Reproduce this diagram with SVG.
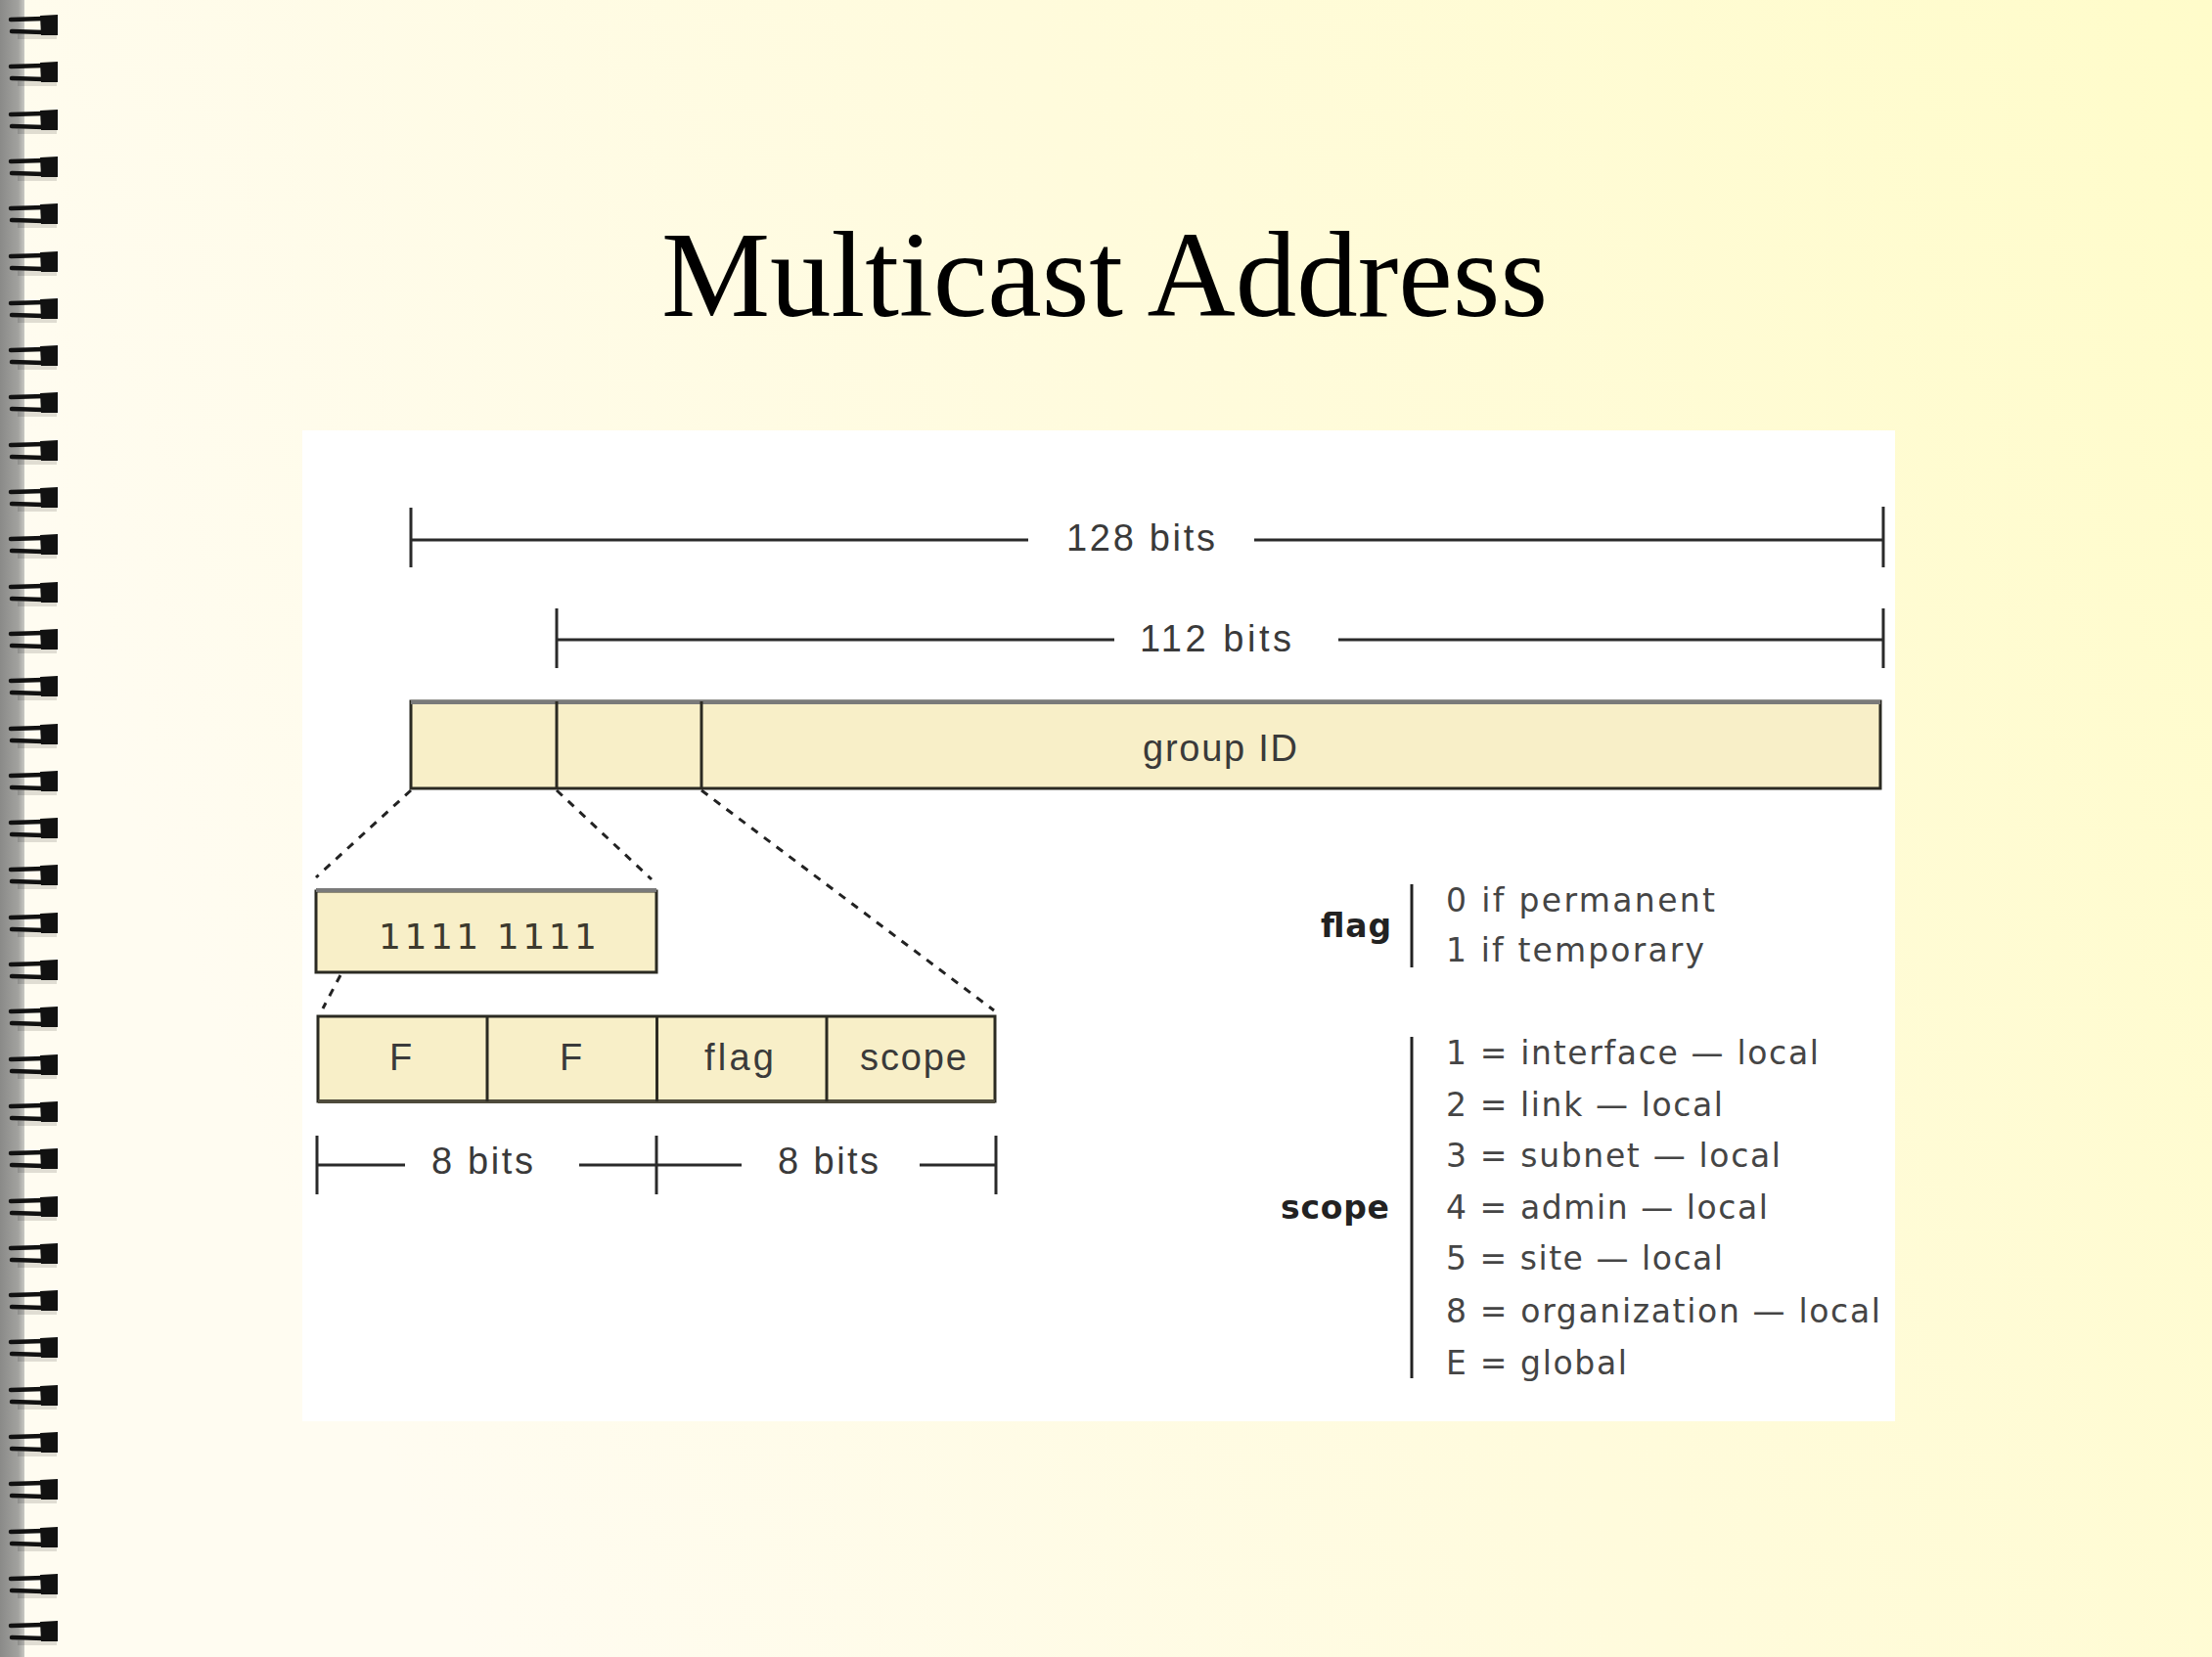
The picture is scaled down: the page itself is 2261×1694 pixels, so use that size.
<svg xmlns="http://www.w3.org/2000/svg" xmlns:xlink="http://www.w3.org/1999/xlink" width="2261" height="1694" viewBox="0 0 2261 1694">
<defs>
<linearGradient id="bg" x1="0" y1="0.3" x2="1" y2="0">
<stop offset="0" stop-color="#fffcf1"/>
<stop offset="0.5" stop-color="#fffbdc"/>
<stop offset="1" stop-color="#fffcca"/>
</linearGradient>
<linearGradient id="strip" x1="0" y1="0" x2="1" y2="0">
<stop offset="0" stop-color="#8a8a88"/>
<stop offset="0.75" stop-color="#a2a29f"/>
<stop offset="1" stop-color="#c9c9c4"/>
</linearGradient>
<g id="ring">
<rect x="18" y="20" width="40" height="5" fill="#000" opacity="0.12"/>
<path d="M11,5 L45,4" stroke="#111" stroke-width="4.5" stroke-linecap="round" fill="none"/>
<path d="M12,17 L45,18" stroke="#111" stroke-width="4.5" stroke-linecap="round" fill="none"/>
<path d="M41,1 L59,0 L59,21 L42,21 Z" fill="#111"/>
</g>
<style>
.box{fill:#f8efc8;stroke:#2b2a22;stroke-width:3}
.topedge{stroke:#7a7a7a;stroke-width:4;fill:none}
.botedge{stroke:#4f4b3c;stroke-width:4;fill:none}
.div{stroke:#2b2a22;stroke-width:3}
.dim{stroke:#2a2a2a;stroke-width:3;fill:none}
.dash{stroke:#222;stroke-width:3;stroke-dasharray:8 8;fill:none}
.bar{stroke:#222;stroke-width:3}
.lbl{font-family:"Liberation Sans",Arial,sans-serif;font-size:38px;fill:#3a3a3a}
.mono{font-family:"DejaVu Sans",Verdana,sans-serif;font-size:36px;fill:#3d3a2e}
.list{font-family:"DejaVu Sans",Verdana,sans-serif;font-size:33px;fill:#454545}
.key{font-family:"DejaVu Sans",Verdana,sans-serif;font-size:33px;font-weight:bold;fill:#222}
.title{font-family:"Liberation Serif","Times New Roman",serif;font-size:125px;fill:#000}
</style>
</defs>
<rect x="0" y="0" width="2261" height="1694" fill="url(#bg)"/>
<g id="binding">
<rect x="0" y="0" width="25" height="1694" fill="url(#strip)"/>
<use xlink:href="#ring" y="15"/><use xlink:href="#ring" y="63"/><use xlink:href="#ring" y="112"/><use xlink:href="#ring" y="160"/><use xlink:href="#ring" y="208"/>
<use xlink:href="#ring" y="257"/><use xlink:href="#ring" y="305"/><use xlink:href="#ring" y="353"/><use xlink:href="#ring" y="401"/><use xlink:href="#ring" y="450"/>
<use xlink:href="#ring" y="498"/><use xlink:href="#ring" y="546"/><use xlink:href="#ring" y="595"/><use xlink:href="#ring" y="643"/><use xlink:href="#ring" y="691"/>
<use xlink:href="#ring" y="740"/><use xlink:href="#ring" y="788"/><use xlink:href="#ring" y="836"/><use xlink:href="#ring" y="884"/><use xlink:href="#ring" y="933"/>
<use xlink:href="#ring" y="981"/><use xlink:href="#ring" y="1029"/><use xlink:href="#ring" y="1078"/><use xlink:href="#ring" y="1126"/><use xlink:href="#ring" y="1174"/>
<use xlink:href="#ring" y="1223"/><use xlink:href="#ring" y="1271"/><use xlink:href="#ring" y="1319"/><use xlink:href="#ring" y="1367"/><use xlink:href="#ring" y="1416"/>
<use xlink:href="#ring" y="1464"/><use xlink:href="#ring" y="1512"/><use xlink:href="#ring" y="1561"/><use xlink:href="#ring" y="1609"/><use xlink:href="#ring" y="1657"/>
</g>
<text id="title" class="title" x="1129" y="323" text-anchor="middle">Multicast Address</text>
<rect id="panel" x="309" y="440" width="1628" height="1013" fill="#ffffff"/>

<g id="dim-128">
<path class="dim" d="M420,519 V580 M420,552 H1051 M1282,552 H1925 M1925,518 V580"/>
<text class="lbl" x="1090" y="563" textLength="152" lengthAdjust="spacing">128 bits</text>
</g>
<g id="dim-112">
<path class="dim" d="M569,622 V683 M569,654 H1139 M1368,654 H1925 M1925,622 V683"/>
<text class="lbl" x="1165" y="666" textLength="155" lengthAdjust="spacing">112 bits</text>
</g>

<g id="address">
<rect class="box" x="420" y="717" width="1502" height="89"/>
<path class="topedge" d="M420,718 H1922"/>
<path class="div" d="M569,717 V806 M717,717 V806"/>
<text class="lbl" x="1168" y="778" textLength="158" lengthAdjust="spacing">group ID</text>
</g>

<g id="prefix">
<rect class="box" x="323" y="911" width="348" height="83"/>
<path class="topedge" d="M323,910 H671" stroke-width="2"/>
<text class="mono" x="387" y="970" textLength="223" lengthAdjust="spacing">1111 1111</text>
</g>

<g id="fields">
<rect class="box" x="325" y="1039" width="692" height="87"/>
<path class="botedge" d="M325,1126 H1017"/>
<path class="div" d="M498,1039 V1126 M671.5,1039 V1126 M845,1039 V1126"/>
<text class="lbl" x="398" y="1094">F</text>
<text class="lbl" x="572" y="1094">F</text>
<text class="lbl" x="720" y="1094" textLength="71" lengthAdjust="spacing">flag</text>
<text class="lbl" x="879" y="1094" textLength="109" lengthAdjust="spacing">scope</text>
</g>

<g id="dim-8bits">
<path class="dim" d="M324,1161 V1221 M671,1161 V1221 M1018,1161 V1221 M324,1191 H414 M592,1191 H758 M940,1191 H1018"/>
<text class="lbl" x="441" y="1200" textLength="104" lengthAdjust="spacing">8 bits</text>
<text class="lbl" x="795" y="1200" textLength="103" lengthAdjust="spacing">8 bits</text>
</g>

<g id="connectors">
<path class="dash" d="M420,808 L323,897"/>
<path class="dash" d="M569,808 L666,899"/>
<path class="dash" d="M717,808 L1016,1033"/>
<path class="dash" d="M348,997 L330,1031"/>
</g>

<g id="legend-flag">
<text class="key" x="1350" y="958" textLength="72" lengthAdjust="spacing">flag</text>
<path class="bar" d="M1443,904 V989"/>
<text class="list" x="1478" y="932" textLength="275" lengthAdjust="spacing">0 if permanent</text>
<text class="list" x="1478" y="983" textLength="264" lengthAdjust="spacing">1 if temporary</text>
</g>

<g id="legend-scope">
<text class="key" x="1309" y="1246" textLength="111" lengthAdjust="spacing">scope</text>
<path class="bar" d="M1443,1060 V1409"/>
<text class="list" x="1478" y="1088" textLength="381" lengthAdjust="spacing">1 = interface — local</text>
<text class="list" x="1478" y="1141" textLength="283" lengthAdjust="spacing">2 = link — local</text>
<text class="list" x="1478" y="1193" textLength="342" lengthAdjust="spacing">3 = subnet — local</text>
<text class="list" x="1478" y="1246" textLength="329" lengthAdjust="spacing">4 = admin — local</text>
<text class="list" x="1478" y="1298" textLength="283" lengthAdjust="spacing">5 = site — local</text>
<text class="list" x="1478" y="1352" textLength="444" lengthAdjust="spacing">8 = organization — local</text>
<text class="list" x="1478" y="1405" textLength="185" lengthAdjust="spacing">E = global</text>
</g>
</svg>
